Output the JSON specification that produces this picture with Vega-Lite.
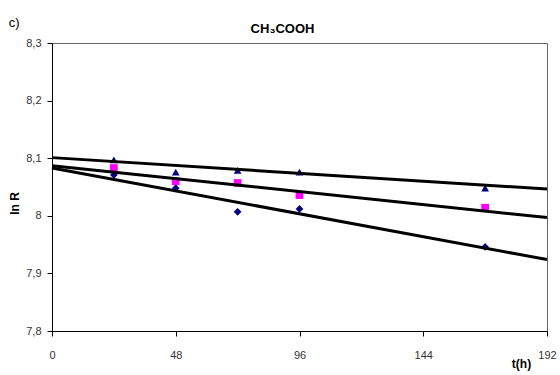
{
  "$schema": "https://vega.github.io/schema/vega-lite/v6.json",
  "width": 495,
  "height": 288,
  "autosize": {"type": "none"},
  "padding": {"left": 52, "top": 43, "right": 13, "bottom": 44},
  "background": "white",
  "config": {
    "locale": {"number": {"decimal": ",", "thousands": ".", "grouping": [3], "currency": ["", " €"]}},
    "view": {"stroke": "#666666", "strokeWidth": 1},
    "font": "Liberation Sans"
  },
  "title": {"text": "CH₃COOH", "fontSize": 13, "fontWeight": "bold", "font": "Liberation Sans", "color": "black", "anchor": "middle", "dx": -17, "offset": -19},
  "datasets": {
    "points": [
      {"series": "A", "t": 24, "v": 8.097},
      {"series": "A", "t": 48, "v": 8.076},
      {"series": "A", "t": 72, "v": 8.079},
      {"series": "A", "t": 96, "v": 8.076},
      {"series": "A", "t": 168, "v": 8.048},
      {"series": "B", "t": 24, "v": 8.083},
      {"series": "B", "t": 48, "v": 8.060},
      {"series": "B", "t": 72, "v": 8.057},
      {"series": "B", "t": 96, "v": 8.036},
      {"series": "B", "t": 168, "v": 8.014},
      {"series": "C", "t": 24, "v": 8.071},
      {"series": "C", "t": 48, "v": 8.048},
      {"series": "C", "t": 72, "v": 8.007},
      {"series": "C", "t": 96, "v": 8.012},
      {"series": "C", "t": 168, "v": 7.946}
    ],
    "fits": [
      {"series": "A", "t": 0, "v": 8.101},
      {"series": "A", "t": 192, "v": 8.0465},
      {"series": "B", "t": 0, "v": 8.087},
      {"series": "B", "t": 192, "v": 7.997},
      {"series": "C", "t": 0, "v": 8.083},
      {"series": "C", "t": 192, "v": 7.924}
    ],
    "label": [{"text": "c)", "t": -14.7, "v": 8.335}]
  },
  "encoding": {
    "x": {
      "field": "t", "type": "quantitative",
      "scale": {"domain": [0, 192], "nice": false, "zero": false},
      "axis": {
        "values": [0, 48, 96, 144, 192], "grid": false, "title": "t(h)",
        "titleFontWeight": "bold", "titleFontSize": 12, "titleColor": "black", "titleX": 469, "titleY": 32,
        "titleAlign": "center", "titleBaseline": "middle",
        "labelFontSize": 11, "labelColor": "#333333", "labelPadding": 13, "labelFlush": false,
        "tickSize": 5, "tickColor": "black", "domainColor": "black"
      }
    },
    "y": {
      "field": "v", "type": "quantitative",
      "scale": {"domain": [7.8, 8.3], "nice": false, "zero": false},
      "axis": {
        "values": [7.8, 7.9, 8, 8.1, 8.2, 8.3], "format": ".1~f", "grid": false, "title": "ln R",
        "titleFontWeight": "bold", "titleFontSize": 12, "titleColor": "black", "titleX": -38, "titleY": 160,
        "titleAlign": "center", "titleBaseline": "middle",
        "labelFontSize": 11, "labelColor": "#333333", "labelPadding": 6,
        "tickSize": 5, "tickColor": "black", "domainColor": "black"
      }
    }
  },
  "layer": [
    {
      "data": {"name": "label"},
      "mark": {"type": "text", "fontSize": 13, "color": "black", "align": "center", "baseline": "middle", "clip": false},
      "encoding": {"text": {"field": "text"}}
    },
    {
      "data": {"name": "points"},
      "mark": {"type": "point", "filled": true, "opacity": 1, "size": 60},
      "encoding": {
        "color": {"field": "series", "type": "nominal", "scale": {"domain": ["A", "B", "C"], "range": ["#000080", "#ff00ff", "#000080"]}, "legend": null},
        "shape": {"field": "series", "type": "nominal", "scale": {"domain": ["A", "B", "C"], "range": ["triangle-up", "square", "diamond"]}, "legend": null}
      }
    },
    {
      "data": {"name": "fits"},
      "mark": {"type": "line", "color": "black", "strokeWidth": 3},
      "encoding": {"detail": {"field": "series"}}
    }
  ]
}
